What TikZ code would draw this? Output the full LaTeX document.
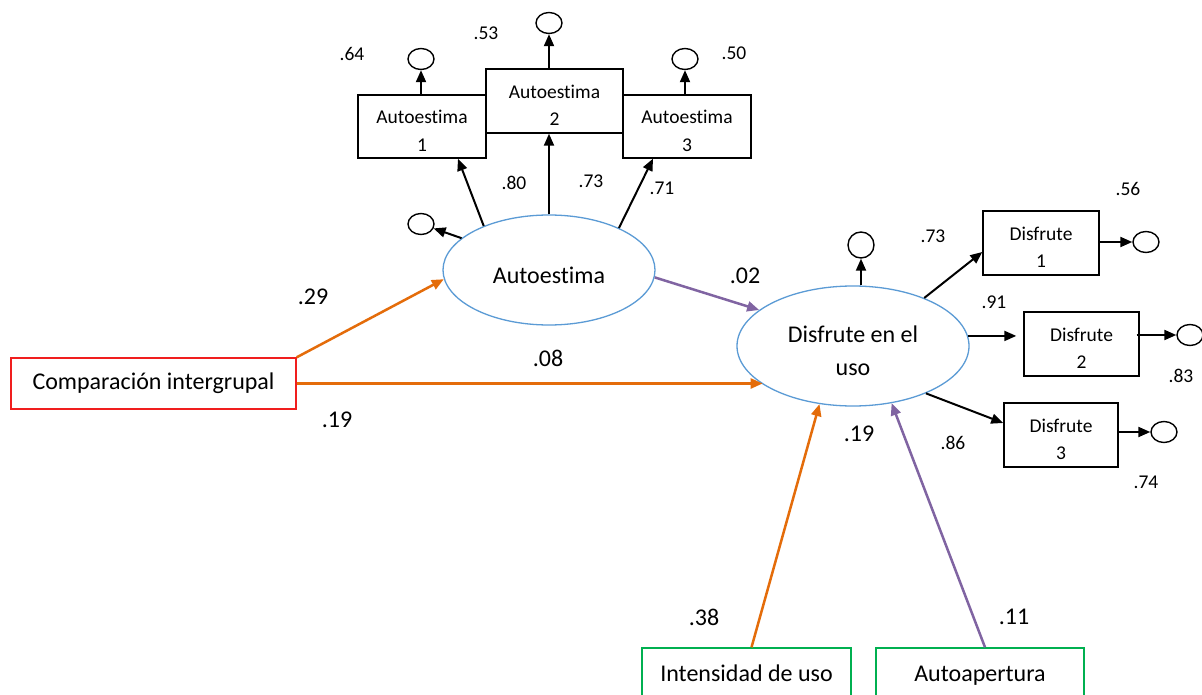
\documentclass[tikz,border=0pt]{standalone}
\usepackage{fontspec}
\setmainfont{Carlito}[Ligatures=NoCommon]
\usetikzlibrary{arrows.meta,shapes.geometric}
\definecolor{ellblue}{HTML}{5B9BD5}
\definecolor{arrorange}{HTML}{E46C0A}
\definecolor{arrpurple}{HTML}{8064A2}
\definecolor{boxred}{HTML}{F01E1E}
\definecolor{boxgreen}{HTML}{00B050}
\newcommand{\topstrut}[1]{\rule{0pt}{#1}}
\begin{document}
\begin{tikzpicture}[x=1pt,y=-1pt,
  big/.style={font=\fontsize{24}{33}\selectfont},
  small/.style={font=\fontsize{19.5}{27.5}\selectfont},
  indbox/.style={draw,line width=1.4pt,inner sep=0pt,align=center,small},
  srcbox/.style={draw,line width=1.4pt,inner sep=0pt,align=center,big,text height=17pt,text depth=5pt},
  latent/.style={ellipse,draw=ellblue,line width=1.3pt,inner sep=0pt,align=center,big},
  err/.style={ellipse,draw,line width=1.4pt,inner sep=0pt,minimum width=26pt,minimum height=21pt},
  blk/.style={draw=black,line width=2pt,-{Triangle[length=12pt,width=10pt]}},
  org/.style={draw=arrorange,line width=2.5pt,-{Triangle[length=12pt,width=10pt]}},
  pur/.style={draw=arrpurple,line width=2.5pt,-{Triangle[length=12pt,width=10pt]}},
  lab/.style={inner sep=0pt}
]
\useasboundingbox (0,0) rectangle (1202,695);
\fill[white] (0,0) rectangle (1202,695);

% indicator boxes for Autoestima
\node[indbox,minimum width=128pt,minimum height=63pt] (b1) at (422,126.5) {\topstrut{22pt}Autoestima\\1};
\node[indbox,minimum width=137pt,minimum height=64pt] (b2) at (554.5,101) {\topstrut{22pt}Autoestima\\2};
\node[indbox,minimum width=128pt,minimum height=63pt] (b3) at (687,126.5) {\topstrut{22pt}Autoestima\\3};

% error circles of indicators
\node[err] (eb1) at (421,59) {};
\node[err] (eb2) at (549,23) {};
\node[err] (eb3) at (685,59) {};
\draw[blk] (eb1.south |- b1.north) -- (eb1.south);
\draw[blk] (eb2.south |- b2.north) -- (eb2.south);
\draw[blk] (eb3.south |- b3.north) -- (eb3.south);

% latent Autoestima
\node[latent,minimum width=212pt,minimum height=110pt] (ae) at (549,270) {\topstrut{27pt}Autoestima};
\node[err] (eae) at (421,224) {};
\draw[blk] (ae.160) -- (eae);
\draw[blk] (ae.146) -- ([xshift=36pt]b1.south);
\draw[blk] (ae.north) -- (ae.north |- b2.south);
\draw[blk] (ae.31) -- ([xshift=-34pt]b3.south);

% latent Disfrute
\node[latent,minimum width=232pt,minimum height=120pt] (de) at (853,346) {\topstrut{27pt}Disfrute en el\\uso};
\node[err,minimum width=26pt,minimum height=26pt] (ede) at (861,245) {};
\draw[blk] (ede.south |- de.north) -- (ede.south);

% Disfrute indicators
\node[indbox,minimum width=116pt,minimum height=64pt] (d1) at (1041,243) {\topstrut{22pt}Disfrute\\1};
\node[indbox,minimum width=115pt,minimum height=64pt] (d2) at (1081.5,344) {\topstrut{22pt}Disfrute\\2};
\node[indbox,minimum width=114pt,minimum height=64pt] (d3) at (1061,435) {\topstrut{22pt}Disfrute\\3};
\node[err] (ed1) at (1146,242) {};
\node[err] (ed2) at (1190,335) {};
\node[err] (ed3) at (1164,432) {};
\draw[blk] (ed1.west -| d1.east) -- (ed1.west);
\draw[blk,shorten <=-3pt] (ed2.west -| d2.east) -- (ed2.west);
\draw[blk] (ed3.west -| d3.east) -- (ed3.west);
\draw[blk] (de.34) -- ([yshift=-9pt]d1.west);
\draw[blk,shorten >=7pt] (de.5) -- (de.5 -| d2.west);
\draw[blk] (de.-33) -- ([yshift=12pt]d3.west);

% exogenous boxes
\node[srcbox,draw=boxred,minimum width=285pt,minimum height=51pt] (cg) at (153.5,383.5) {Comparación intergrupal};
\node[srcbox,draw=boxgreen,minimum width=209pt,minimum height=54pt] (iu) at (746.5,675) {Intensidad de uso};
\node[srcbox,draw=boxgreen,minimum width=208pt,minimum height=54pt] (aa) at (980,675) {Autoapertura};

% structural paths
\draw[org] (cg.north east) -- (ae.185);
\draw[org] (cg.east) -- (cg.east -| de.203);
\draw[pur] (ae.-4) -- (de.159);
\draw[org] ([xshift=5pt]iu.north) -- (de.240);
\draw[pur] ([xshift=5pt]aa.north) -- (de.-56);

% labels
\node[lab,small] (l64) at (352,54) {.64};
\node[lab,small] (l53) at (486,33) {.53};
\node[lab,small] (l50) at (734,53) {.50};
\node[lab,small] (l80) at (514,183) {.80};
\node[lab,small] (l73a) at (591,181) {.73};
\node[lab,small] (l71) at (662,188) {.71};
\node[lab,big] (l29) at (313,297) {.29};
\node[lab,big] (l08) at (548,358) {.08};
\node[lab,big] (l19a) at (337,420) {.19};
\node[lab,big] (l02) at (745,276) {.02};
\node[lab,big] (l19b) at (859,434) {.19};
\node[lab,big] (l38) at (704,617) {.38};
\node[lab,big] (l11) at (1014,617) {.11};
\node[lab,small] (l73b) at (933,236) {.73};
\node[lab,small] (l91) at (994,302) {.91};
\node[lab,small] (l86) at (953,443) {.86};
\node[lab,small] (l56) at (1128,189) {.56};
\node[lab,small] (l83) at (1181,376) {.83};
\node[lab,small] (l74) at (1146,482) {.74};
\end{tikzpicture}
\end{document}
